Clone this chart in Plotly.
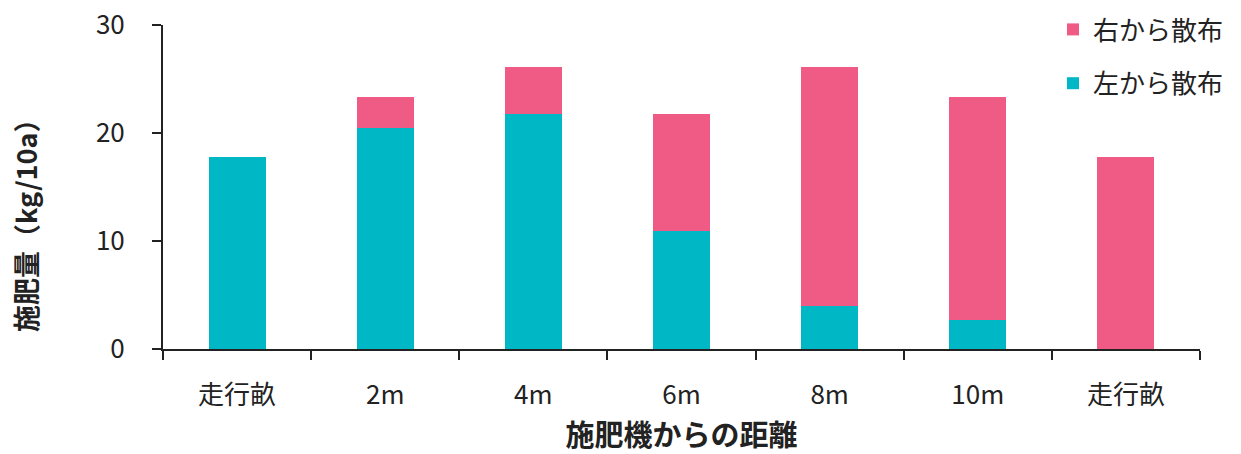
import plotly.graph_objects as go

categories = ["走行畝(左)", "2m", "4m", "6m", "8m", "10m", "走行畝(右)"]
tick_labels = ["走行畝", "2m", "4m", "6m", "8m", "10m", "走行畝"]
left_spread = [17.8, 20.5, 21.8, 10.9, 4.0, 2.7, 0.0]
right_spread = [0.0, 2.8, 4.3, 10.9, 22.1, 20.6, 17.8]

teal = "#00B8C5"
pink = "#F05B86"
font = "Noto Sans CJK JP"

W, H = 1241, 454
ML, MR, MT, MB = 163, 41, 25, 105
pw = W - ML - MR
ph = H - MT - MB

def px_x(px):
    return (px - ML) / pw

def px_y(py):
    return (H - MB - py) / ph

fig = go.Figure()
fig.add_trace(go.Bar(x=categories, y=left_spread, name="左から散布",
                     marker=dict(color=teal, line=dict(width=0)),
                     width=0.385, legendgroup="l", legendrank=2))
fig.add_trace(go.Bar(x=categories, y=right_spread, name="右から散布",
                     marker=dict(color=pink, line=dict(width=0)),
                     width=0.385, legendgroup="r", legendrank=1))

fig.update_layout(
    barmode="stack",
    width=W, height=H,
    margin=dict(l=ML, r=MR, t=MT, b=MB, autoexpand=False),
    paper_bgcolor="white", plot_bgcolor="white",
    font=dict(family=font, color="#222222", size=26),
    legend=dict(x=px_x(1053), y=px_y(6), xanchor="left", yanchor="top",
                traceorder="grouped", tracegroupgap=17,
                font=dict(size=26, color="#222222"), bgcolor="rgba(0,0,0,0)"),
    xaxis=dict(type="category", tickmode="array", tickvals=categories, ticktext=tick_labels,
               tickson="boundaries", ticks="outside", ticklen=9, tickwidth=2, tickcolor="#222",
               showline=True, linecolor="#222", linewidth=2, showgrid=False,
               range=[-0.5, 6.5], ticklabelstandoff=22, automargin=False,
               tickfont=dict(size=26, color="#222"),
               title=dict(text="<b>施肥機からの距離</b>", font=dict(size=29, color="#222"), standoff=23)),
    yaxis=dict(range=[0, 30], tickvals=[0, 10, 20, 30], ticks="outside", ticklen=9,
               tickwidth=2, tickcolor="#222", showline=True, linecolor="#222", linewidth=2,
               showgrid=False, zeroline=False, ticklabelstandoff=22, automargin=False,
               tickfont=dict(size=26, color="#222")),
    annotations=[dict(text="<b>施肥量（kg/10a）</b>", textangle=-90,
                      x=px_x(25), y=px_y(219), xref="paper", yref="paper",
                      xanchor="center", yanchor="middle", showarrow=False,
                      font=dict(size=27, color="#222"))],
)

fig.write_html("out.html")
